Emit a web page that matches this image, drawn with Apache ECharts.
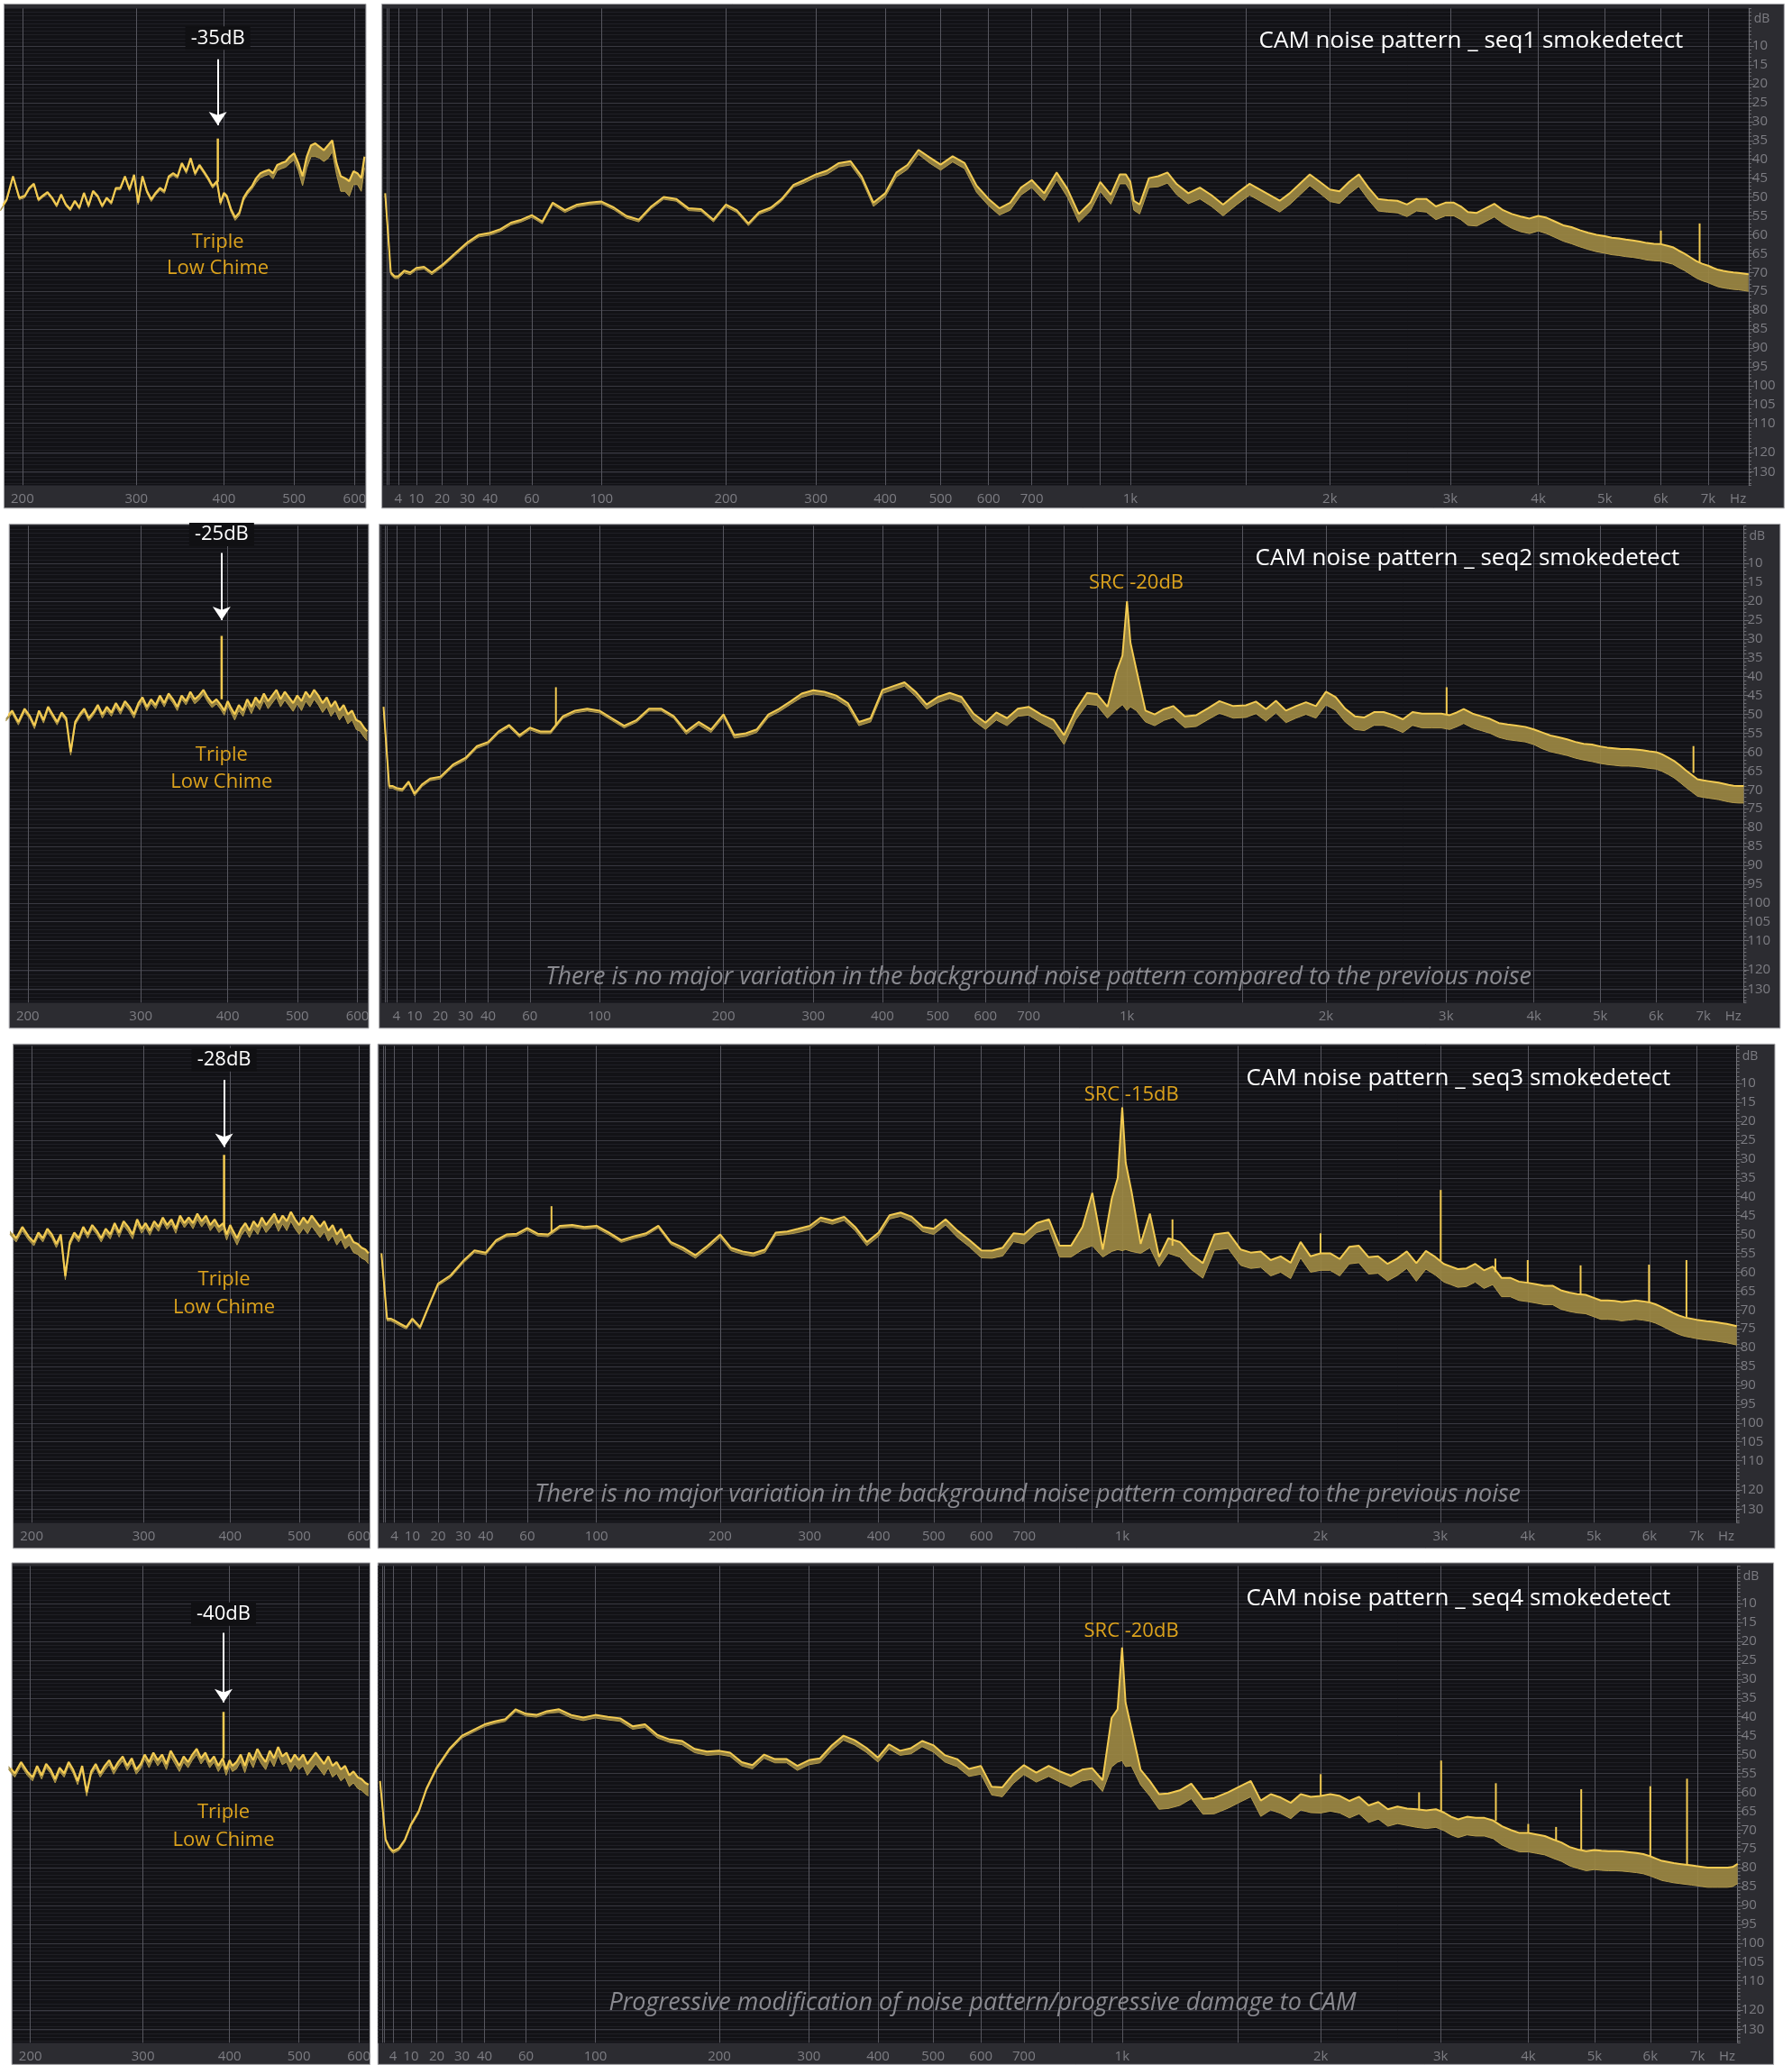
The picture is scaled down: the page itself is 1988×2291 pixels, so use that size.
<!DOCTYPE html>
<html>
<head>
<meta charset="utf-8">
<script src="https://cdn.jsdelivr.net/npm/echarts@6/dist/echarts.min.js"></script>
<style>
  html, body { margin: 0; padding: 0; background: #ffffff; }
  #chart { width: 1988px; height: 2291px; }
</style>
</head>
<body>
<div id="chart"></div>
<script>
// ---- analyzer frequency scale (screen position of each grid frequency, px of first row) ----
const axisHz  = [0, 1, 4, 10, 20, 30, 40, 60, 100, 200, 300, 400, 500, 600, 700, 800, 900, 1000, 1500, 2000, 3000, 4000, 5000, 6000, 7000, 8000];
const axisPos = [291, 294, 302.4, 316.1, 335.8, 355, 372.2, 403.9, 456.8, 551.3, 619.7, 672.3, 714.4, 750.8, 783.6, 810.6, 835.6, 858.5, 946.5, 1010, 1101.5, 1168.3, 1218.8, 1261.4, 1297.3, 1328];

// ---- full-range spectra (Hz / dB below full scale) ----
const FREQ = [0.5, 2, 3, 4, 6, 8, 10, 13, 16, 20,
  25, 30, 35, 40, 45, 50, 55, 60, 66, 72,
  79, 86, 93, 100, 110, 120, 130, 140, 150, 160,
  170, 180, 190, 200, 212, 225, 237, 250, 262, 275,
  287, 300, 316, 333, 350, 366, 383, 400, 420, 440,
  460, 480, 500, 525, 550, 575, 600, 625, 650, 675,
  700, 735, 770, 800, 835, 870, 900, 935, 965, 985,
  1000, 1015, 1040, 1080, 1120, 1160, 1200, 1250, 1300, 1350,
  1400, 1460, 1520, 1580, 1640, 1700, 1760, 1820, 1880, 1940,
  2000, 2080, 2160, 2240, 2320, 2400, 2480, 2560, 2640, 2720,
  2800, 2880, 2960, 3040, 3120, 3200, 3300, 3400, 3500, 3600,
  3700, 3800, 3900, 4000, 4125, 4250, 4375, 4500, 4625, 4750,
  4875, 5000, 5125, 5250, 5375, 5500, 5625, 5750, 5875, 6000,
  6125, 6250, 6375, 6500, 6625, 6750, 6875, 7000, 7125, 7250,
  7375, 7500, 7625, 7750, 7875, 8000];

const seq1Level = [49, 70, 71, 71, 69.5, 70, 68.8, 68.5, 70, 68,
  65, 62, 60, 59.5, 58.5, 56.8, 56, 54.8, 56.5, 51.5,
  53.5, 52, 51.5, 51.2, 52.8, 55, 56, 52.5, 50, 50.5,
  53, 53.2, 56, 52, 53.5, 57, 54, 52.8, 50.5, 46.8,
  45.5, 44, 43, 41, 40.5, 44.5, 51.5, 49, 43.5, 41.5,
  37.5, 39.5, 41.4, 39.2, 41, 47, 50.5, 53, 51.5, 47.5,
  45.5, 49, 43.5, 47.8, 54.5, 51.5, 46, 49.4, 44, 44,
  46, 51, 52, 45, 44.5, 43.5, 46.6, 49, 47.5, 49.5,
  52, 49, 46.5, 48, 49.5, 51, 49, 46.5, 44, 46,
  48, 48.5, 46, 44, 47.5, 50.5, 50.8, 51, 52, 50.5,
  50.5, 52.5, 51.5, 51.5, 52.5, 54, 54.2, 53, 51.8, 53.5,
  54.5, 55.2, 55.7, 55, 55.5, 56.5, 57.5, 58, 58.8, 59.5,
  60, 60.4, 60.8, 61, 61.3, 61.5, 61.8, 62.2, 62.4, 62.5,
  62.9, 63.3, 64.2, 65, 66, 67, 67.7, 68.2, 68.8, 69.3,
  69.6, 69.8, 70, 70.1, 70.3, 70.5];
const seq1Spread = [0.6, 0.6, 0.6, 0.6, 0.6, 0.6, 0.6, 0.6, 0.6, 0.6,
  0.6, 0.6, 0.6, 0.6, 0.6, 0.6, 0.6, 0.6, 0.6, 0.6,
  0.6, 0.6, 0.6, 0.6, 0.6, 0.6, 0.6, 0.6, 0.6, 0.6,
  0.6, 0.6, 0.6, 0.6, 0.6, 0.6, 0.6, 0.6, 0.6, 0.6,
  0.8, 0.8, 1, 1, 1, 1, 1, 1, 1.2, 1.2,
  1.2, 1.5, 1.5, 1.5, 1.5, 1.8, 1.8, 1.8, 2, 2,
  2, 2, 2, 2.2, 2.2, 2.2, 2.5, 2.5, 2.5, 2.5,
  2.5, 2.5, 2.5, 2.5, 2.8, 2.8, 2.8, 2.8, 3, 3,
  3, 3, 3, 3, 3, 3, 3, 3, 3, 3,
  3.2, 3.2, 3.2, 3.2, 3.2, 3.2, 3.2, 3.2, 3.2, 3.2,
  3.5, 3.5, 3.5, 3.5, 3.5, 3.5, 3.5, 3.5, 3.5, 3.5,
  3.8, 4, 4, 4, 4.2, 4.2, 4.2, 4.4, 4.4, 4.4,
  4.5, 4.5, 4.5, 4.5, 4.5, 4.5, 4.5, 4.5, 4.5, 4.5,
  4.5, 4.5, 4.5, 4.5, 4.5, 4.5, 4.5, 4.5, 4.5, 4.5,
  4.5, 4.5, 4.5, 4.5, 4.5, 4.5];

const seq2Level = [48, 69, 69, 69.5, 69.8, 67.8, 71, 68.5, 67, 66.5,
  63.3, 61.5, 58.4, 57.3, 54.5, 52.8, 55.5, 53.5, 54.5, 54.5,
  50.5, 49, 48.5, 49, 51, 53, 51.5, 48.5, 48.5, 50.5,
  54.5, 52, 54, 50, 55.5, 55, 54, 50, 48.5, 46.5,
  44.5, 43.6, 44, 45, 47, 52, 51, 43.5, 42.5, 41.5,
  44, 47.4, 45.4, 44.3, 45.4, 49.8, 52.2, 49.5, 51, 48.5,
  48, 50, 51.5, 55.5, 49, 44.3, 44.6, 48, 38.7, 34.4,
  20, 31, 38, 49, 50, 48.6, 47.8, 50.5, 50.2, 48.4,
  46.5, 47.8, 47.6, 46.6, 48.6, 46.4, 49, 47.8, 46.8, 47.8,
  44, 45.4, 48.5, 50.5, 50.8, 49.4, 49.4, 50.2, 51.3, 49.4,
  49.8, 49.8, 49.8, 50.2, 49.5, 48.6, 49.8, 50.5, 51.2, 52.3,
  52.7, 53, 53.3, 54, 54.8, 55.6, 56.1, 56.6, 57.3, 57.8,
  58, 58.5, 58.8, 59, 59.2, 59.2, 59.3, 59.5, 59.8, 60,
  60.6, 61.4, 62.3, 63.5, 64.8, 66, 67.2, 67.5, 67.7, 67.9,
  68.1, 68.4, 68.7, 68.9, 69, 69];
const seq2Spread = [0.6, 0.6, 0.6, 0.6, 0.6, 0.6, 0.6, 0.6, 0.6, 0.6,
  0.6, 0.6, 0.6, 0.6, 0.6, 0.6, 0.6, 0.6, 0.6, 0.6,
  0.6, 0.6, 0.6, 0.6, 0.6, 0.6, 0.6, 0.6, 0.6, 0.6,
  0.8, 0.8, 0.8, 0.8, 0.8, 0.8, 0.8, 0.8, 0.8, 0.8,
  1, 1, 1, 1, 1, 1, 1, 1, 1, 1,
  1.2, 1.2, 1.5, 1.5, 1.5, 1.8, 1.8, 2, 2, 2,
  2.2, 2.2, 2.5, 2.5, 2.5, 3, 3, 3, 10, 13,
  29, 17, 11, 3, 3, 3, 3, 3, 3, 3,
  3.2, 3.2, 3.2, 3.2, 3.2, 3.2, 3.2, 3.2, 3.2, 3.2,
  3.5, 3.5, 3.5, 3.5, 3.5, 3.5, 3.5, 3.5, 3.5, 3.5,
  3.8, 3.8, 3.8, 3.8, 3.8, 3.8, 3.8, 3.8, 3.8, 3.8,
  4, 4, 4, 4, 4.3, 4.3, 4.3, 4.3, 4.3, 4.3,
  4.5, 4.5, 4.5, 4.5, 4.5, 4.5, 4.5, 4.5, 4.5, 4.5,
  4.5, 4.5, 4.5, 4.5, 4.5, 4.5, 4.5, 4.5, 4.5, 4.5,
  4.5, 4.5, 4.5, 4.5, 4.5, 4.5];

const seq3Level = [55, 72.3, 72.3, 72.8, 73.7, 74.5, 72.3, 74.5, 69.5, 63,
  60.8, 57, 54.2, 54.8, 51.5, 50, 49.8, 48.3, 49.8, 50,
  47.7, 47.5, 48, 47.7, 49.5, 51.5, 50.5, 49.7, 47.7, 52,
  53.5, 55.5, 52.9, 50, 53.5, 54.5, 55, 54, 49.5, 49.2,
  48.5, 47.7, 45.5, 46.3, 45.3, 48, 52, 49.5, 44.9, 44.2,
  45.3, 48, 48.5, 46, 49, 51.5, 54.2, 54.3, 53.5, 49.7,
  50, 47, 46, 53, 53, 48, 39, 54, 40.5, 35,
  16.3, 31, 38.5, 52.5, 44.5, 56, 51, 52, 55.3, 57.6,
  50, 49.5, 54, 54.8, 54.5, 56.8, 55.8, 57.5, 52, 55.8,
  55, 55, 56.5, 53.3, 53, 56, 55.8, 57.8, 56.4, 54.5,
  57.6, 54.4, 56, 57.8, 58.5, 59.2, 59, 57.8, 59.5, 58.5,
  61.5, 61.5, 62.5, 62.8, 63.2, 63.6, 63.6, 64.8, 65.4, 65.8,
  66, 66.8, 67.5, 67.5, 67.6, 67.9, 67.7, 67.5, 67.7, 68,
  68.5, 69.2, 70, 70.8, 71.5, 72, 72.3, 72.6, 72.8, 73,
  73.1, 73.3, 73.5, 73.7, 74, 74.3];
const seq3Spread = [0.6, 0.6, 0.6, 0.6, 0.6, 0.6, 0.6, 0.6, 0.6, 0.6,
  0.6, 0.6, 0.6, 0.6, 0.6, 0.6, 0.6, 0.6, 0.6, 0.6,
  0.6, 0.6, 0.6, 0.6, 0.6, 0.6, 0.6, 0.6, 0.6, 0.6,
  0.8, 0.8, 0.8, 0.8, 0.8, 0.8, 0.8, 0.8, 0.8, 0.8,
  1, 1, 1, 1, 1, 1, 1, 1, 1, 1,
  1.2, 1.2, 1.5, 1.5, 1.8, 1.8, 2, 2, 2.2, 2.2,
  2.5, 2.5, 2.5, 3, 3, 6, 14, 2, 14, 19,
  38, 23, 16, 2.5, 9, 2.5, 4, 4, 4, 4,
  4.2, 4.2, 4.2, 4.2, 4.2, 4.2, 4.2, 4.2, 4.2, 4.2,
  4.5, 4.5, 4.5, 4.5, 4.5, 4.5, 4.5, 4.5, 4.5, 4.5,
  4.8, 4.8, 4.8, 4.8, 4.8, 4.8, 4.8, 4.8, 4.8, 4.8,
  5, 5, 5, 5, 5, 5, 5, 5, 5, 5,
  5, 5, 5, 5, 5, 5, 5, 5, 5, 5,
  5, 5, 5, 5, 5, 5, 5, 5, 5, 5,
  5, 5, 5, 5, 5, 5];

const seq4Level = [57, 72.5, 74.5, 75.6, 74.8, 72.5, 68.5, 65, 59, 53.4,
  48.5, 45, 43.5, 42, 41.2, 40.6, 38, 39.2, 39.5, 38.5,
  38, 39.5, 40.2, 39.5, 40, 40.4, 42.5, 42, 44.8, 46,
  46.4, 48.5, 49.2, 49, 49.5, 52, 52.8, 50, 51.2, 51.2,
  53, 51.5, 51, 47.6, 45, 46.2, 48.2, 50.8, 47.3, 49,
  48.3, 46.4, 47.5, 50.2, 51.2, 53.8, 53, 58.5, 58.7, 55.2,
  52.8, 54.8, 53, 54.4, 55.6, 54, 53.6, 56.8, 40.3, 38,
  21.6, 36.2, 43, 54, 57, 60.5, 60.3, 59.5, 57.7, 61.8,
  61.5, 60, 58.3, 57, 62.2, 60.5, 61.4, 62.8, 60.5, 61.2,
  61, 60.5, 61, 62.3, 61.2, 63.5, 62.6, 64.5, 63.8, 64.3,
  64.5, 64.8, 64.5, 65.4, 66.5, 67.2, 66.5, 66.8, 66.8, 67.5,
  69, 70, 70.8, 70.8, 71.2, 71.6, 72.5, 73.3, 74.5, 75.2,
  75.6, 75.3, 75.5, 75.6, 75.6, 75.7, 75.9, 76.1, 76.4, 77,
  77.6, 78.2, 78.5, 78.8, 79, 79.2, 79.4, 79.6, 79.8, 80,
  80, 80, 80, 80, 79.8, 79];
const seq4Spread = [0.6, 0.6, 0.6, 0.6, 0.6, 0.6, 0.6, 0.6, 0.6, 0.6,
  0.6, 0.6, 0.6, 0.6, 0.6, 0.6, 0.6, 0.6, 0.6, 0.6,
  0.8, 0.8, 0.8, 0.8, 0.8, 0.8, 0.8, 0.8, 0.8, 0.8,
  1, 1, 1, 1, 1, 1, 1, 1, 1, 1,
  1.2, 1.2, 1.2, 1.2, 1.2, 1.2, 1.2, 1.2, 1.2, 1.2,
  1.5, 1.5, 1.8, 1.8, 2, 2, 2.2, 2.2, 2.5, 2.5,
  2.5, 2.5, 2.8, 2.8, 3, 3, 3, 3, 13, 14,
  30, 17, 10, 4, 4, 4, 4, 4, 4, 4,
  4.2, 4.2, 4.2, 4.2, 4.2, 4.2, 4.2, 4.2, 4.2, 4.2,
  4.5, 4.5, 4.5, 4.5, 4.5, 4.5, 4.5, 4.5, 4.5, 4.5,
  4.8, 4.8, 4.8, 4.8, 4.8, 4.8, 4.8, 4.8, 4.8, 4.8,
  5, 5, 5, 5, 5, 5, 5, 5, 5, 5,
  5.2, 5.2, 5.2, 5.2, 5.2, 5.2, 5.2, 5.2, 5.2, 5.2,
  5.2, 5.2, 5.2, 5.2, 5.2, 5.2, 5.2, 5.2, 5.2, 5.2,
  5.2, 5.2, 5.2, 5.2, 5.2, 5.2];

// narrow tones: frequency, level of the floor under it, level of the tip
const seq1ToneHz = [6000, 6820];
const seq1ToneFrom = [62.5, 67.5];
const seq1ToneTo = [58.9, 57];
const seq2ToneHz = [75, 3005, 6790];
const seq2ToneFrom = [53, 50, 65.5];
const seq2ToneTo = [42.8, 42.8, 58.4];
const seq3ToneHz = [74, 1218, 2000, 3005, 3630, 4000, 4800, 5990, 6785];
const seq3ToneFrom = [49.5, 53, 55, 57, 60, 63, 66, 68, 72];
const seq3ToneTo = [42.5, 46, 49.7, 38.2, 56.4, 56.8, 58.2, 58, 56.8];
const seq4ToneHz = [2000, 2820, 3005, 3630, 4000, 4420, 4800, 6000, 6780];
const seq4ToneFrom = [61, 64.8, 65, 67.6, 70.8, 72.6, 75.4, 77, 79.2];
const seq4ToneTo = [55.2, 60, 51.6, 57.6, 68.4, 69.2, 59.2, 58.4, 56.4];

// ---- 190-620 Hz close-ups ----
const zoomHz = [186, 190, 194, 198, 202, 206, 210, 214, 218, 222,
  226, 230, 234, 238, 242, 246, 250, 254, 258, 262,
  266, 270, 274, 278, 282, 286, 290, 294, 298, 302,
  307, 312, 317, 322, 327, 332, 337, 342, 347, 352,
  357, 362, 367, 372, 377, 382, 387, 392, 396,
  400, 404,
  410, 416, 422, 428, 434, 440, 446, 452, 458, 464, 470, 476, 482, 488, 494, 500,
  507, 514, 521, 528, 535, 542, 549, 556, 563, 570, 577, 584, 591, 598, 605, 612, 618];
const zoom1Level = [53.2, 50.6, 44.5, 50.2, 49.7, 47.6, 46.5, 50.6, 49.6, 48.7,
  50.2, 52.2, 49.3, 51.9, 53.2, 51, 52.8, 48.9, 52.3, 48.4,
  49.7, 52.3, 50.2, 51.5, 47.6, 47.6, 44.5, 48, 44.1, 51.5,
  44.5, 48.4, 50.6, 48.9, 47.6, 48.4, 44.5, 43.7, 44.5, 41,
  43.2, 39.7, 43.7, 41.5, 43.2, 45, 47.1, 45.8, 51.5,
  48.9, 49.7,
  53.2, 55.4, 54.1, 50.2, 48.4, 47.1, 45, 43.7, 43.2, 42.8, 43.7, 41.5, 41, 40.6, 39.3, 38.4,
  41, 44.5, 39.3, 36.3, 35.8, 36.7, 37.6, 36.3, 35, 41, 44.5, 45, 45.8, 43.2, 43.7, 45, 39.3];
const zoom1Spread = [0.5, 0.5, 0.5, 0.5, 0.5, 0.5, 0.5, 0.5, 0.5, 0.5,
  0.5, 0.5, 0.5, 0.5, 0.5, 0.5, 0.5, 0.5, 0.5, 0.5,
  0.5, 0.5, 0.5, 0.5, 0.5, 0.5, 0.5, 0.5, 0.5, 0.5,
  0.6, 0.6, 0.6, 0.6, 0.6, 0.6, 0.6, 0.6, 0.6, 0.6,
  0.6, 0.6, 0.6, 0.6, 0.6, 0.6, 0.6, 0.6, 0.6,
  0.6, 0.6,
  0.8, 0.8, 0.8, 0.8, 0.8, 0.8, 1.2, 1.2, 1.2, 1.2, 1.5, 1.5, 1.5, 1.5, 1.8, 1.8,
  2, 2.5, 3, 3, 3.5, 3, 3, 3.5, 3, 3, 4, 3.5, 4, 3.5, 3, 3.5, 3];
const zoom2Level = [51, 49, 52, 48.5, 50.5, 53, 49, 51.5, 48, 50,
  52, 49.5, 51, 60, 52, 50, 48.5, 51, 49.5, 47.5,
  50, 48, 49.5, 47, 49, 46.5, 48, 50, 47, 45.5,
  48, 46, 47.5, 45, 47, 44.5, 46, 48, 45, 46.5,
  44, 46, 45, 43.5, 45.5, 47, 46, 47.5, 49,
  46.5, 48,
  50, 47.5, 49, 46, 48, 45.5, 47, 44.5, 46.5, 45, 43.5, 46, 44, 45.5, 47, 45,
  46.5, 44, 45.5, 43.5, 45, 47, 45.5, 48, 46.5, 49, 47.5, 50, 49, 51.5, 52, 53.5, 54.5];
const zoom2Spread = [0.8, 0.8, 0.8, 0.8, 0.8, 0.8, 0.8, 0.8, 0.8, 0.8,
  0.8, 0.8, 0.8, 0.8, 0.8, 0.8, 0.8, 0.8, 0.8, 0.8,
  1, 1, 1, 1, 1, 1, 1, 1, 1, 1,
  1, 1, 1, 1, 1, 1, 1, 1, 1, 1,
  1.2, 1.2, 1.2, 1.2, 1.2, 1.2, 1.2, 1.2, 1.2,
  1.2, 1.2,
  1.5, 1.5, 1.5, 1.5, 1.8, 1.8, 1.8, 1.8, 2, 2, 2, 2, 2.2, 2.2, 2.2, 2.2,
  2.5, 2.5, 2.5, 2.5, 2.5, 2.5, 2.5, 2.5, 2.5, 2.5, 2.5, 2.5, 2.5, 2.5, 2.5, 2.5, 2.5];
const zoom3Level = [49, 51, 48, 50.5, 52, 49.5, 51, 48.5, 50, 52.5,
  50, 61, 52, 49.5, 51, 48, 50, 47.5, 49, 51,
  48.5, 50, 47, 49.5, 46.5, 48, 50, 46, 48.5, 47,
  49, 46.5, 48, 45.5, 47.5, 46, 48.5, 45, 47, 45.5,
  47, 44.5, 46.5, 45, 47.5, 46, 48, 47, 50,
  47.5, 49,
  51, 48.5, 47, 49, 46.5, 48, 45.5, 47.5, 46, 44.5, 47, 45, 46.5, 44, 46, 47.5,
  45.5, 47, 45, 46.5, 48, 46.5, 49, 47.5, 50, 48.5, 51, 50, 52, 52.5, 53.5, 54, 55];
const zoom3Spread = [1, 1, 1, 1, 1, 1, 1, 1, 1, 1,
  1, 1, 1, 1, 1, 1, 1, 1, 1, 1,
  1.2, 1.2, 1.2, 1.2, 1.2, 1.2, 1.2, 1.2, 1.2, 1.2,
  1.2, 1.2, 1.2, 1.2, 1.2, 1.2, 1.2, 1.2, 1.2, 1.2,
  1.5, 1.5, 1.5, 1.5, 1.5, 1.5, 1.5, 1.5, 1.5,
  1.5, 1.5,
  1.8, 1.8, 1.8, 1.8, 2, 2, 2, 2, 2.2, 2.2, 2.2, 2.2, 2.5, 2.5, 2.5, 2.5,
  2.8, 2.8, 2.8, 2.8, 2.8, 2.8, 2.8, 2.8, 2.8, 2.8, 2.8, 2.8, 2.8, 2.8, 2.8, 2.8, 2.8];
const zoom4Level = [53, 55, 52, 54.5, 56, 53, 55.5, 52.5, 54, 56.5,
  53.5, 55, 52, 54, 57, 53, 60, 54.5, 52.5, 55,
  53, 51.5, 54, 52, 50.5, 53, 51, 54, 52.5, 50,
  52, 49.5, 51.5, 50, 52.5, 49, 51, 53, 50.5, 52,
  50, 48.5, 51, 49.5, 52, 50.5, 53, 51, 54,
  51.5, 53,
  52, 50, 53, 49.5, 51.5, 48.5, 50.5, 52, 49, 51, 48, 50.5, 49.5, 52, 50, 51.5,
  50, 52.5, 51, 49.5, 51, 52.5, 50.5, 53, 52, 54, 53, 55.5, 54.5, 56, 56.5, 57.5, 58];
const zoom4Spread = [1, 1, 1, 1, 1, 1, 1, 1, 1, 1,
  1, 1, 1, 1, 1, 1, 1, 1, 1, 1,
  1.2, 1.2, 1.2, 1.2, 1.2, 1.2, 1.2, 1.2, 1.2, 1.2,
  1.5, 1.5, 1.5, 1.5, 1.5, 1.5, 1.5, 1.5, 1.5, 1.5,
  1.5, 1.5, 1.5, 1.5, 1.5, 1.5, 1.5, 1.5, 1.5,
  1.5, 1.5,
  1.8, 1.8, 1.8, 1.8, 2, 2, 2, 2, 2.2, 2.2, 2.2, 2.2, 2.5, 2.5, 2.5, 2.5,
  3, 3, 3, 3, 3, 3, 3, 3, 3, 3, 3, 3, 3, 3, 3, 3, 3];
const chimeHz = 393;
const chimeFrom = [46, 46, 48, 51];
const chimeTo = [34.5, 29.2, 28.9, 38.7];

// ---- ticks and texts ----
const xTickHz = [4, 10, 20, 30, 40, 60, 100, 200, 300, 400, 500, 600, 700, 1000, 2000, 3000, 4000, 5000, 6000, 7000, 7740];
const xTickText = ['4', '10', '20', '30', '40', '60', '100', '200', '300', '400', '500', '600', '700', '1k', '2k', '3k', '4k', '5k', '6k', '7k', 'Hz'];
const xGridHz = [1, 1.5, 4, 10, 20, 30, 40, 60, 100, 200, 300, 400, 500, 600, 700, 800, 900, 1000, 1500, 2000, 3000, 4000, 5000, 6000, 7000];
const zoomTickHz = [200, 300, 400, 500, 600];
const dbTicks = [10, 15, 20, 25, 30, 35, 40, 45, 50, 55, 60, 65, 70, 75, 80, 85, 90, 95, 100, 105, 110, 120, 130];
const titles = ['CAM noise pattern _ seq1 smokedetect', 'CAM noise pattern _ seq2 smokedetect',
  'CAM noise pattern _ seq3 smokedetect', 'CAM noise pattern _ seq4 smokedetect'];
const chimeText = ['-35dB', '-25dB', '-28dB', '-40dB'];
const srcText = ['', 'SRC -20dB', 'SRC -15dB', 'SRC -20dB'];
const notes = ['',
  'There is no major variation in the background noise pattern compared to the previous noise',
  'There is no major variation in the background noise pattern compared to the previous noise',
  'Progressive modification of noise pattern/progressive damage to CAM'];

// ---- layout (px) ----
const VMAX = 126.4;
const PLOT_H = 529;
const rowTop = [9.3, 583.3, 1160.3, 1737.3];
const frameY = [[4.4, 563.8], [581.4, 1140.8], [1158.3, 1717.8], [1733.9, 2290.4]];
const mainX = [[425.1, 1939.8], [423.3, 1934.4], [421, 1926.7], [419.4, 1927.7]];
const mainFrameX = [[423.6, 1979.3], [420.7, 1974.9], [419.2, 1969], [419.2, 1967.6]];
const zoomX = [[5, 405], [11, 408], [15.5, 409.5], [14, 409.5]];
const zoomFrameX = [[4.4, 406], [10.2, 409], [14.6, 410.5], [13.1, 410.5]];
const titleX = [1632, 1628, 1618, 1618];
const noteXY = [null, [1152, 1084], [1140, 1658], [1090, 2222]];
// annotation heights in dB
const chimeLabelDb = [7.9, 2.3, 3.7, 12.8];
const arrowDb = [[13.5, 31], [7.2, 25], [9, 26.8], [17.7, 36.2]];
const tripleDb = [[62, 69], [60.9, 67.9], [62, 69.3], [65.4, 72.7]];
const srcDb = [0, 15.2, 13.1, 17.3];

const TRACE = '#f3cb52', BAND = '#9c8843', BAND_EDGE = '#b39a4b', ORANGE = '#dca21c';
const PLOT_BG = '#121216', FRAME = '#2c2c31', DENSE = '#1f1f25', MAJOR = '#393941', VGRID = '#56565e', LABEL = '#7d7d83';
const FONT = '"Open Sans", sans-serif';

const tables = [
  [seq1Level, seq1Spread, seq1ToneHz, seq1ToneFrom, seq1ToneTo, zoom1Level, zoom1Spread],
  [seq2Level, seq2Spread, seq2ToneHz, seq2ToneFrom, seq2ToneTo, zoom2Level, zoom2Spread],
  [seq3Level, seq3Spread, seq3ToneHz, seq3ToneFrom, seq3ToneTo, zoom3Level, zoom3Spread],
  [seq4Level, seq4Spread, seq4ToneHz, seq4ToneFrom, seq4ToneTo, zoom4Level, zoom4Spread]
];
tables.forEach((t, r) => {
  if (t[0].length !== FREQ.length || t[1].length !== FREQ.length) throw new Error('row ' + r + ' length ' + t[0].length + '/' + t[1].length + ' vs ' + FREQ.length);
  if (t[5].length !== zoomHz.length || t[6].length !== zoomHz.length) throw new Error('zoom ' + r + ' length ' + t[5].length + '/' + t[6].length + ' vs ' + zoomHz.length);
});

function warp(f) {
  for (let i = 1; i < axisHz.length; i++) {
    if (f <= axisHz[i]) {
      const t = (f - axisHz[i - 1]) / (axisHz[i] - axisHz[i - 1]);
      return axisPos[i - 1] + t * (axisPos[i] - axisPos[i - 1]);
    }
  }
  return axisPos[axisPos.length - 1];
}
// the analyzer squeezes its scale below -110 dB
function yPos(d) {
  if (d <= 110) return d;
  if (d <= 120) return 110 + (d - 110) * 0.77;
  if (d <= 130) return 117.7 + (d - 120) * 0.52;
  return 122.9 + (d - 130) * 0.4;
}
function lookup(vals, texts) {
  return function (v) {
    let best = 0;
    for (let i = 1; i < vals.length; i++) if (Math.abs(vals[i] - v) < Math.abs(vals[best] - v)) best = i;
    return texts[best];
  };
}

const xLabelVals = xTickHz.map(warp);
const zoomLabelVals = zoomTickHz.map(warp);
const yLabelVals = dbTicks.map(yPos);

const grid = [], xAxis = [], yAxis = [], series = [], graphic = [];

function addPanel(left, right, top, hzMin, hzMax, gridHz, labelVals, labelFmt, showY) {
  const g = grid.length;
  grid.push({ left: left, top: top, width: right - left, height: PLOT_H, containLabel: false });
  xAxis.push({
    type: 'value', gridIndex: g, min: warp(hzMin), max: warp(hzMax), z: 2,
    axisLine: { show: false },
    axisTick: { show: false, customValues: gridHz.map(warp) },
    splitLine: { show: true, lineStyle: { color: VGRID, width: 1 } },
    axisLabel: { customValues: labelVals, formatter: labelFmt, color: LABEL, fontSize: 15, margin: 8, fontFamily: FONT }
  });
  yAxis.push({
    type: 'value', gridIndex: g, inverse: true, min: 0, max: VMAX, interval: 1, position: 'right', z: 0,
    axisLabel: { show: false },
    axisLine: { show: showY, lineStyle: { color: '#6e6e74' } },
    axisTick: { show: showY, length: 3, lineStyle: { color: '#6e6e74' } },
    splitLine: { show: true, lineStyle: { color: DENSE, width: 1 } }
  });
  const yMain = yAxis.length;
  yAxis.push({
    type: 'value', gridIndex: g, inverse: true, min: 0, max: VMAX, position: 'right', z: 1,
    axisLine: { show: false },
    axisTick: { show: showY, length: 6, customValues: yLabelVals, lineStyle: { color: '#6e6e74' } },
    axisLabel: { show: showY, customValues: yLabelVals, formatter: lookup(yLabelVals, dbTicks.map(String)), color: LABEL, fontSize: 15, margin: 4, fontFamily: FONT },
    splitLine: { show: true, lineStyle: { color: MAJOR, width: 1 } }
  });
  return { x: g, y: yMain };
}

// thin vertical tones drawn from the floor up to their tip
function toneSeries(ax, hz, from, to, width) {
  return {
    type: 'custom', xAxisIndex: ax.x, yAxisIndex: ax.y, z: 6, silent: true,
    data: hz.map((f, i) => [warp(f), from[i], to[i]]),
    renderItem: function (params, api) {
      const a = api.coord([api.value(0), api.value(1)]);
      const b = api.coord([api.value(0), api.value(2)]);
      return { type: 'line', shape: { x1: a[0], y1: a[1], x2: b[0], y2: b[1] }, style: { stroke: TRACE, lineWidth: width } };
    }
  };
}

// min/max envelope of the analyzer trace: one polygon between the two edges
function bandSeries(ax, xs, level, spread) {
  return {
    type: 'custom', xAxisIndex: ax.x, yAxisIndex: ax.y, z: 3, silent: true,
    data: xs.map((x, i) => [x, level[i], level[i] + spread[i]]),
    renderItem: function (params, api) {
      if (params.dataIndexInside !== 0) return null;
      const n = params.dataInsideLength;
      const upper = [], lower = [];
      for (let i = 0; i < n; i++) {
        upper.push(api.coord([api.value(0, i), api.value(1, i)]));
        lower.push(api.coord([api.value(0, i), api.value(2, i)]));
      }
      return {
        type: 'group',
        children: [
          { type: 'polygon', shape: { points: upper.concat(lower.slice().reverse()) }, style: { fill: BAND, opacity: 0.92 } },
          { type: 'polyline', shape: { points: lower }, style: { stroke: BAND_EDGE, lineWidth: 1, fill: null } }
        ]
      };
    }
  };
}

for (let r = 0; r < 4; r++) {
  const [level, spread, toneHz, toneFrom, toneTo, zoomLevel, zoomSpread] = tables[r];
  const fy = frameY[r];

  // panel frames
  [zoomFrameX[r], mainFrameX[r]].forEach(fx => {
    graphic.push({ type: 'rect', z: -10, silent: true,
      shape: { x: fx[0], y: fy[0], width: fx[1] - fx[0], height: fy[1] - fy[0] },
      style: { fill: FRAME, stroke: '#a9a9ad', lineWidth: 1 } });
  });
  [zoomX[r], mainX[r]].forEach(px => {
    graphic.push({ type: 'rect', z: -9, silent: true,
      shape: { x: px[0], y: rowTop[r], width: px[1] - px[0], height: PLOT_H },
      style: { fill: PLOT_BG } });
  });

  // close-up panel
  const za = addPanel(zoomX[r][0], zoomX[r][1], rowTop[r], 188.6, 619, zoomTickHz, zoomLabelVals,
    lookup(zoomLabelVals, zoomTickHz.map(String)), false);
  const zx = zoomHz.map(warp);
  const cx = warp(chimeHz);
  series.push(bandSeries(za, zx, zoomLevel, zoomSpread));
  series.push({
    type: 'line', xAxisIndex: za.x, yAxisIndex: za.y, z: 5, silent: true, symbol: 'none',
    data: zx.map((x, i) => [x, zoomLevel[i]]),
    lineStyle: { color: TRACE, width: 2.2 },
    markLine: {
      silent: true, symbol: ['none', 'arrow'], symbolSize: 15, label: { show: false },
      lineStyle: { color: '#ffffff', width: 2, type: 'solid' },
      data: [[{ coord: [cx, arrowDb[r][0]] }, { coord: [cx, arrowDb[r][1]] }]]
    },
    markPoint: {
      symbol: 'circle', symbolSize: 1, itemStyle: { color: 'rgba(0,0,0,0)' },
      label: { show: true, position: 'inside', formatter: '{b}', fontFamily: FONT, fontSize: 22 },
      data: [
        { name: chimeText[r], coord: [cx, chimeLabelDb[r]], label: { color: '#ffffff', backgroundColor: '#101013', padding: [2, 6] } },
        { name: 'Triple', coord: [cx, tripleDb[r][0]], label: { color: ORANGE } },
        { name: 'Low Chime', coord: [cx, tripleDb[r][1]], label: { color: ORANGE } }
      ]
    }
  });
  series.push(toneSeries(za, [chimeHz], [chimeFrom[r]], [chimeTo[r]], 2.5));

  // full-range panel
  const ma = addPanel(mainX[r][0], mainX[r][1], rowTop[r], 0, 8000, xGridHz, xLabelVals,
    lookup(xLabelVals, xTickText), true);
  const xs = FREQ.map(warp);
  series.push(bandSeries(ma, xs, level, spread));
  const top = {
    type: 'line', xAxisIndex: ma.x, yAxisIndex: ma.y, z: 5, silent: true, symbol: 'none',
    data: xs.map((x, i) => [x, level[i]]), lineStyle: { color: TRACE, width: 2 }
  };
  if (srcText[r]) {
    top.markPoint = {
      symbol: 'circle', symbolSize: 1, itemStyle: { color: 'rgba(0,0,0,0)' },
      label: { show: true, position: 'inside', formatter: '{b}', color: ORANGE, fontSize: 22, fontFamily: FONT },
      data: [{ name: srcText[r], coord: [warp(1040), srcDb[r]] }]
    };
  }
  series.push(top);
  series.push(toneSeries(ma, toneHz, toneFrom, toneTo, 2));

  // texts
  graphic.push({ type: 'text', z: 50, silent: true, x: titleX[r], y: rowTop[r] + 8.6 * 4.185,
    style: { text: titles[r], fill: '#ffffff', font: '26px ' + FONT, align: 'center', verticalAlign: 'middle' } });
  graphic.push({ type: 'text', z: 50, silent: true, x: mainX[r][1] + 6, y: rowTop[r] + 2.7 * 4.185,
    style: { text: 'dB', fill: LABEL, font: '14px ' + FONT, align: 'left', verticalAlign: 'middle' } });
  if (noteXY[r]) {
    graphic.push({ type: 'text', z: 50, silent: true, x: noteXY[r][0], y: noteXY[r][1],
      style: { text: notes[r], fill: '#8a8a90', font: 'italic 27px ' + FONT, align: 'center', verticalAlign: 'middle' } });
  }
}

const chart = echarts.init(document.getElementById('chart'), null, { renderer: 'canvas' });
chart.setOption({
  backgroundColor: '#ffffff',
  animation: false,
  grid: grid,
  xAxis: xAxis,
  yAxis: yAxis,
  series: series,
  graphic: graphic
});
</script>
</body>
</html>
